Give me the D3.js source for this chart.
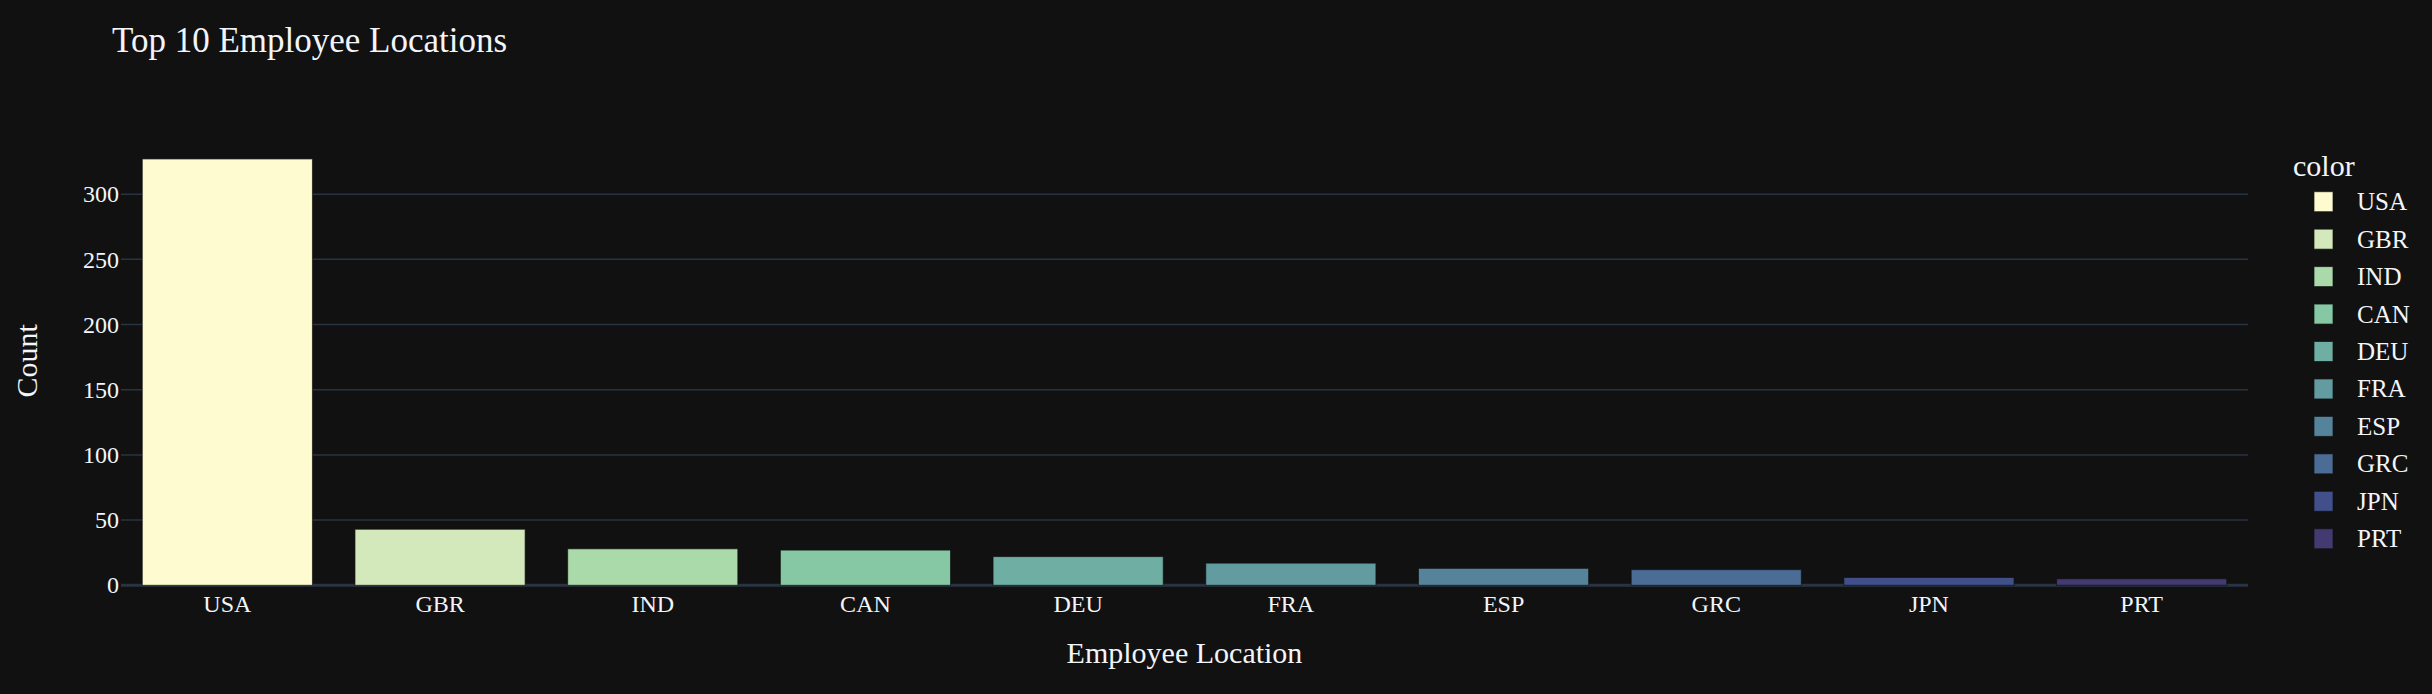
<!DOCTYPE html>
<html>
<head>
<meta charset="utf-8">
<script src="https://cdn.jsdelivr.net/npm/d3@7"></script>
<style>
	body {
		margin: 0;
		background: #111111;
	}
	text {
		font-family: "Liberation Serif", "Times New Roman", serif;
		fill: #f2f5fa;
	}
</style>
</head>
<body>
<script>
// chart data
const locations = ["USA", "GBR", "IND", "CAN", "DEU", "FRA", "ESP", "GRC", "JPN", "PRT"];
const counts = [327, 43, 28, 27, 22, 17, 13, 12, 6, 5];
const barColors = ["#fefbd0", "#d4e9bb", "#aad9aa", "#86c8a4", "#6fafa3", "#629ca0", "#54839b", "#4b6c94", "#414f8a", "#423a70"];
const yTicks = [0, 50, 100, 150, 200, 250, 300];

const width = 2432;
const height = 694;
const plot = { left: 121, right: 2248, top: 136.5, bottom: 585.3 };

const data = locations.map((loc, i) => ({ loc: loc, count: counts[i], color: barColors[i] }));

const svg = d3
	.select("body")
	.append("svg")
	.attr("width", width)
	.attr("height", height);

const x = d3
	.scaleBand()
	.domain(locations)
	.range([plot.left, plot.right])
	.paddingInner(0.2)
	.paddingOuter(0.1);

// plotly style autorange gives ~5% headroom over the tallest bar
const y = d3
	.scaleLinear()
	.domain([0, d3.max(counts) / 0.95])
	.range([plot.bottom, plot.top]);

// grid lines
svg.append("g")
	.selectAll("line")
	.data(yTicks.filter((t) => t > 0))
	.enter()
	.append("line")
	.attr("x1", plot.left)
	.attr("x2", plot.right)
	.attr("y1", (d) => y(d))
	.attr("y2", (d) => y(d))
	.attr("stroke", "#283442")
	.attr("stroke-width", 1.5);

// zero line
svg.append("line")
	.attr("x1", plot.left)
	.attr("x2", plot.right)
	.attr("y1", y(0))
	.attr("y2", y(0))
	.attr("stroke", "#283442")
	.attr("stroke-width", 3);

// bars
svg.append("g")
	.selectAll("rect")
	.data(data)
	.enter()
	.append("rect")
	.attr("x", (d) => x(d.loc))
	.attr("y", (d) => y(d.count))
	.attr("width", x.bandwidth())
	.attr("height", (d) => y(0) - y(d.count))
	.attr("fill", (d) => d.color)
	.attr("stroke", "#111111")
	.attr("stroke-opacity", 0.7)
	.attr("stroke-width", 1);

// y axis labels
const yAxis = d3.axisLeft(y).tickValues(yTicks).tickSize(0).tickPadding(2);
svg.append("g")
	.attr("transform", `translate(${plot.left},0)`)
	.call(yAxis)
	.call((g) => g.select(".domain").remove())
	.selectAll("text")
	.style("font-size", "24px")
	.attr("fill", "#f2f5fa");

// x axis labels
const xAxis = d3.axisBottom(x).tickSize(0).tickPadding(10);
svg.append("g")
	.attr("transform", `translate(0,${plot.bottom})`)
	.call(xAxis)
	.call((g) => g.select(".domain").remove())
	.selectAll("text")
	.style("font-size", "24px")
	.attr("fill", "#f2f5fa");

// titles
svg.append("text")
	.attr("x", 112)
	.attr("y", 52)
	.style("font-size", "35px")
	.text("Top 10 Employee Locations");

svg.append("text")
	.attr("x", (plot.left + plot.right) / 2)
	.attr("y", 663)
	.attr("text-anchor", "middle")
	.style("font-size", "30px")
	.text("Employee Location");

svg.append("text")
	.attr("transform", `translate(37,${(plot.top + plot.bottom) / 2}) rotate(-90)`)
	.attr("text-anchor", "middle")
	.style("font-size", "30px")
	.text("Count");

// legend
const legend = svg.append("g").attr("transform", "translate(2293,0)");
legend
	.append("text")
	.attr("x", 0)
	.attr("y", 176)
	.style("font-size", "30px")
	.text("color");

const item = legend
	.selectAll("g.item")
	.data(data)
	.enter()
	.append("g")
	.attr("class", "item")
	.attr("transform", (d, i) => `translate(0,${201.7 + i * 37.45})`);

item.append("rect")
	.attr("x", 21)
	.attr("y", -10)
	.attr("width", 19)
	.attr("height", 20)
	.attr("fill", (d) => d.color)
	.attr("stroke", "#111111")
	.attr("stroke-opacity", 0.7)
	.attr("stroke-width", 1);

item.append("text")
	.attr("x", 64)
	.attr("y", 8.5)
	.style("font-size", "25px")
	.text((d) => d.loc);
</script>
</body>
</html>
